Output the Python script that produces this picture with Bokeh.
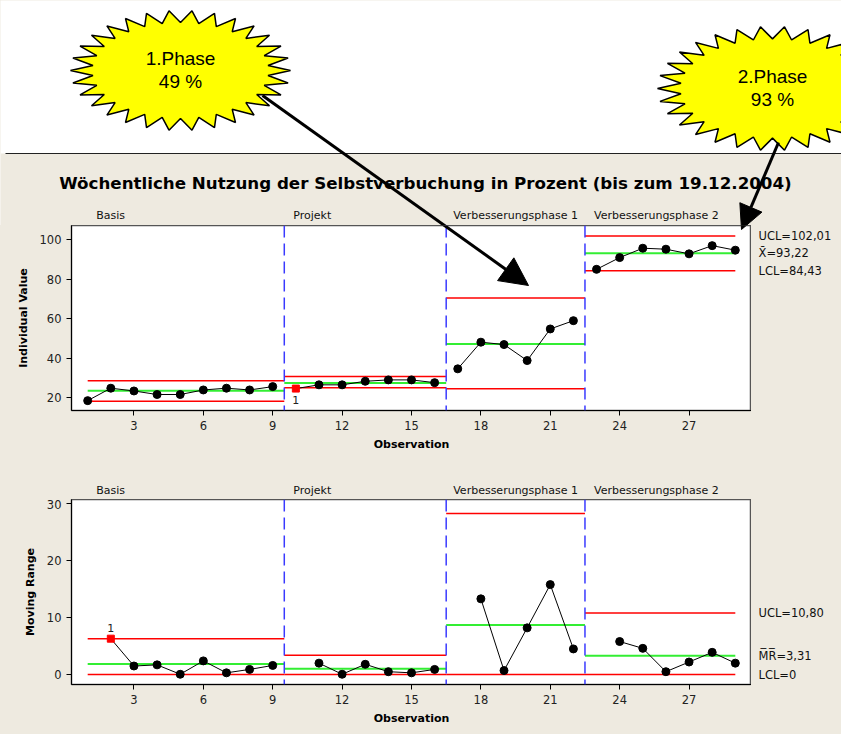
import math
from bokeh.plotting import figure
from bokeh.models import (Range1d, FixedTicker, Span, Label, Arrow, NormalHead,
                          ColumnDataSource)
from bokeh.layouts import column, row
from bokeh.core.properties import value
from bokeh.embed import file_html
from bokeh.resources import INLINE

# ---------------- data ----------------
observation = list(range(1, 30))
individual_value = [18.6, 24.9, 23.5, 21.7, 21.7, 24.0, 24.9, 24.0, 25.7,
                    24.7, 26.6, 26.6, 28.4, 29.1, 29.1, 27.7,
                    34.7, 48.2, 47.0, 38.9, 54.9, 59.1,
                    85.1, 91.05, 95.8, 95.3, 92.95, 97.1, 94.8]
moving_range = [None, 6.3, 1.5, 1.7, 0.05, 2.4, 0.3, 0.9, 1.6,
                None, 2.0, 0.05, 1.8, 0.5, 0.3, 0.9,
                None, 13.3, 0.7, 8.2, 15.8, 4.5,
                None, 5.8, 4.6, 0.5, 2.2, 3.9, 2.0]
phase_names = ["Basis", "Projekt", "Verbesserungsphase 1", "Verbesserungsphase 2"]
phase_first = [1, 10, 17, 23]
phase_last = [9, 16, 22, 29]
i_ucl = [28.7, 30.8, 70.6, 102.01]
i_cl = [23.6, 27.5, 47.3, 93.22]
i_lcl = [18.3, 25.1, 24.6, 84.43]
mr_ucl = [6.3, 3.4, 28.3, 10.80]
mr_cl = [1.86, 1.0, 8.7, 3.31]
mr_lcl = [0.0, 0.0, 0.0, 0.0]
flag_i = [10]
flag_mr = [2]
i_limit_labels = ["UCL=102,01", "X\u0304=93,22", "LCL=84,43"]
mr_limit_labels = ["UCL=10,80", "M\u0305R\u0305=3,31", "LCL=0"]
x_ticks = [3, 6, 9, 12, 15, 18, 21, 24, 27]
i_ticks = [20, 40, 60, 80, 100]
mr_ticks = [0, 10, 20, 30]
title_text = "Wöchentliche Nutzung der Selbstverbuchung in Prozent (bis zum 19.12.2004)"
star_texts = [["1.Phase", "49 %"], ["2.Phase", "93 %"]]

# ---------------- layout constants (pixels) ----------------
BEIGE = "#EEEAE0"
FONT = "DejaVu Sans"
W_TOTAL = 841
LEFT, FRAME_W = 71, 680
RIGHT = W_TOTAL - LEFT - FRAME_W
FRAME_H = 185
HEAD_H = 225            # header strip above the first chart
B_BOT = 45
STRIP_H = 44            # strip above the second chart
C_BOT = 48
B_Y0 = HEAD_H
C_Y0 = HEAD_H + FRAME_H + B_BOT + STRIP_H
XR = (0.3, 29.7)
IR = (13.6, 107.3)
MR_R = (-1.75, 30.75)
KX = FRAME_W / (XR[1] - XR[0])


def px_to_x(px):
    return XR[0] + (px - LEFT) / KX


def py_to_y(py, y0, yr):
    return yr[1] - (py - y0) * (yr[1] - yr[0]) / FRAME_H


def base_fig(**kw):
    p = figure(tools="", toolbar_location=None, output_backend="svg", **kw)
    p.min_border_left = p.min_border_right = p.min_border_top = p.min_border_bottom = 0
    return p


def blank(w, h, xr, yr, bg):
    p = base_fig(width=w, height=h, x_range=Range1d(*xr), y_range=Range1d(*yr),
                 x_axis_type=None, y_axis_type=None)
    p.outline_line_color = None
    p.background_fill_color = bg
    p.border_fill_color = bg
    p.xgrid.visible = False
    p.ygrid.visible = False
    return p


def chart(bot, yr, ticks, ylabel):
    p = base_fig(frame_width=FRAME_W, frame_height=FRAME_H,
                 x_range=Range1d(*XR), y_range=Range1d(*yr))
    p.min_border_left = LEFT
    p.min_border_bottom = bot
    p.background_fill_color = "white"
    p.border_fill_color = BEIGE
    p.outline_line_color = "#555555"
    p.outline_line_width = 1.5
    p.xgrid.visible = False
    p.ygrid.visible = False
    p.xaxis.ticker = FixedTicker(ticks=x_ticks)
    p.yaxis.ticker = FixedTicker(ticks=ticks)
    p.xaxis.axis_label = "Observation"
    p.yaxis.axis_label = ylabel
    for ax in (p.xaxis[0], p.yaxis[0]):
        ax.axis_label_text_font = FONT
        ax.axis_label_text_font_style = "bold"
        ax.axis_label_text_font_size = "11px"
        ax.axis_label_text_color = "black"
        ax.major_label_text_font = FONT
        ax.major_label_text_font_size = "11.5px"
        ax.major_label_text_color = "#222222"
        ax.minor_tick_line_color = None
        ax.major_tick_in = 0
        ax.major_tick_out = 5
        ax.axis_line_color = "black"
        ax.major_tick_line_color = "black"
    p.xaxis.axis_label_standoff = 5
    p.yaxis.axis_label_standoff = 7
    for f in phase_first[1:]:
        p.add_layout(Span(location=f - 0.5, dimension="height", line_color="#3a3aff",
                          line_width=1.5, line_dash="12 6"))
    return p


def add_limits(p, ucl, cl, lcl):
    src = ColumnDataSource(dict(
        x0=[max(f - 0.5, observation[0]) for f in phase_first],
        x1=[min(l + 0.5, observation[-1]) for l in phase_last],
        ucl=ucl, cl=cl, lcl=lcl))
    p.segment(x0="x0", y0="ucl", x1="x1", y1="ucl", source=src, line_color="#ff0000", line_width=1.5)
    p.segment(x0="x0", y0="lcl", x1="x1", y1="lcl", source=src, line_color="#ff0000", line_width=1.5)
    p.segment(x0="x0", y0="cl", x1="x1", y1="cl", source=src, line_color="#33ee33", line_width=2)


def add_series(p, values, flags):
    xs, ys = [], []
    for f, l in zip(phase_first, phase_last):
        sx = [o for o in observation[f - 1:l] if values[o - 1] is not None]
        xs.append(sx)
        ys.append([values[o - 1] for o in sx])
    p.multi_line(xs=xs, ys=ys, line_color="black", line_width=1)
    nx = [o for o in observation if values[o - 1] is not None and o not in flags]
    p.scatter(nx, [values[o - 1] for o in nx], marker="circle", size=8, color="black")
    p.scatter(flags, [values[o - 1] for o in flags], marker="square", size=7, color="#ff0000")


def phase_labels(p, y):
    offs = [20, 9, 7, 9]
    src = ColumnDataSource(dict(x=[f - 0.5 for f in phase_first], y=[y] * len(phase_first),
                                t=phase_names, o=offs))
    p.text(x="x", y="y", text="t", x_offset="o", source=src, text_font=value(FONT),
           text_font_size="11px", text_align="left", text_baseline="middle",
           text_color="#111111")


def side_fig(bot, yr, labels, levels):
    # same frame height / bottom border as the chart, so the row aligns it exactly
    p = base_fig(frame_width=RIGHT, frame_height=FRAME_H,
                 x_range=Range1d(px_to_x(LEFT + FRAME_W), px_to_x(W_TOTAL)),
                 y_range=Range1d(*yr), x_axis_type=None, y_axis_type=None)
    p.min_border_bottom = bot
    p.outline_line_color = None
    p.background_fill_color = BEIGE
    p.border_fill_color = BEIGE
    p.xgrid.visible = False
    p.ygrid.visible = False
    p.text(x=[px_to_x(758)] * len(labels), y=levels, text=labels, text_font=value(FONT),
           text_font_size="11.5px", text_align="left", text_baseline="middle",
           text_color="#111111")
    return p


# arrows (page pixel geometry) and starbursts
arrows = [((262, 95), (528, 285), 28), ((778, 142), (741, 229), 24)]
stars = [(180, 70, 110, 60), (772, 88, 115, 62)]


def add_arrows(p, fy):
    for (a, b, hs) in arrows:
        p.add_layout(Arrow(x_start=px_to_x(a[0]), y_start=fy(a[1]),
                           x_end=px_to_x(b[0]), y_end=fy(b[1]),
                           line_width=3, line_color="black",
                           end=NormalHead(size=hs, fill_color="black", line_color="black")))


# ---------------- header ----------------
head = blank(W_TOTAL, HEAD_H, (px_to_x(0), px_to_x(W_TOTAL)), (HEAD_H, 0), "white")
head.quad(left=[px_to_x(0)], right=[px_to_x(W_TOTAL + 10)], top=[153], bottom=[HEAD_H + 5],
          fill_color=BEIGE, line_color=None)
head.segment(x0=[px_to_x(5)], y0=[153], x1=[px_to_x(W_TOTAL + 10)], y1=[153],
             line_color="#222222", line_width=1.2)
head.text(x=[px_to_x(425)], y=[182], text=[title_text], text_font=value(FONT),
          text_font_style="bold", text_font_size="16.7px", text_align="center",
          text_baseline="middle", text_color="black")
phase_labels(head, 215)
for (cx, cy, rx, ry), lines in zip(stars, star_texts):
    n, inner = 30, 0.8
    sx, sy = [], []
    for i in range(2 * n):
        a = math.pi * i / n
        r = 1.0 if i % 2 == 0 else inner
        sx.append(px_to_x(cx + rx * r * math.cos(a)))
        sy.append(cy + ry * r * math.sin(a))
    head.patch(sx, sy, fill_color="#ffff00", line_color="black", line_width=1.5)
    head.text(x=[px_to_x(cx)] * 2, y=[cy - 12, cy + 11], text=lines,
              text_font=value("Liberation Sans"), text_font_size="19px",
              text_align="center", text_baseline="middle", text_color="black")
add_arrows(head, lambda py: py)

# ---------------- individual value chart ----------------
pb = chart(B_BOT, IR, i_ticks, "Individual Value")
add_limits(pb, i_ucl, i_cl, i_lcl)
add_series(pb, individual_value, flag_i)
for o in flag_i:
    pb.add_layout(Label(x=o, y=individual_value[o - 1], y_offset=-11, text="1",
                        text_font=FONT, text_font_size="11px", text_align="center",
                        text_baseline="middle", text_color="#222222"))
add_arrows(pb, lambda py: py_to_y(py, B_Y0, IR))
sb = side_fig(B_BOT, IR, i_limit_labels, [i_ucl[-1], i_cl[-1], i_lcl[-1]])

# ---------------- strip above MR chart ----------------
strip = blank(W_TOTAL, STRIP_H, (px_to_x(0), px_to_x(W_TOTAL)), (C_Y0, C_Y0 - STRIP_H), BEIGE)
phase_labels(strip, 490)

# ---------------- moving range chart ----------------
pc = chart(C_BOT, MR_R, mr_ticks, "Moving Range")
add_limits(pc, mr_ucl, mr_cl, mr_lcl)
add_series(pc, moving_range, flag_mr)
for o in flag_mr:
    pc.add_layout(Label(x=o, y=moving_range[o - 1], y_offset=11, text="1",
                        text_font=FONT, text_font_size="11px", text_align="center",
                        text_baseline="middle", text_color="#222222"))
sc = side_fig(C_BOT, MR_R, mr_limit_labels, [mr_ucl[-1], mr_cl[-1], mr_lcl[-1]])

layout = column(head, row(pb, sb, spacing=0), strip, row(pc, sc, spacing=0), spacing=0)
html = file_html(layout, INLINE)
html = html.replace("</head>", "<style>html, body { background-color: %s; }</style></head>" % BEIGE, 1)
open("out.html", "w").write(html)
